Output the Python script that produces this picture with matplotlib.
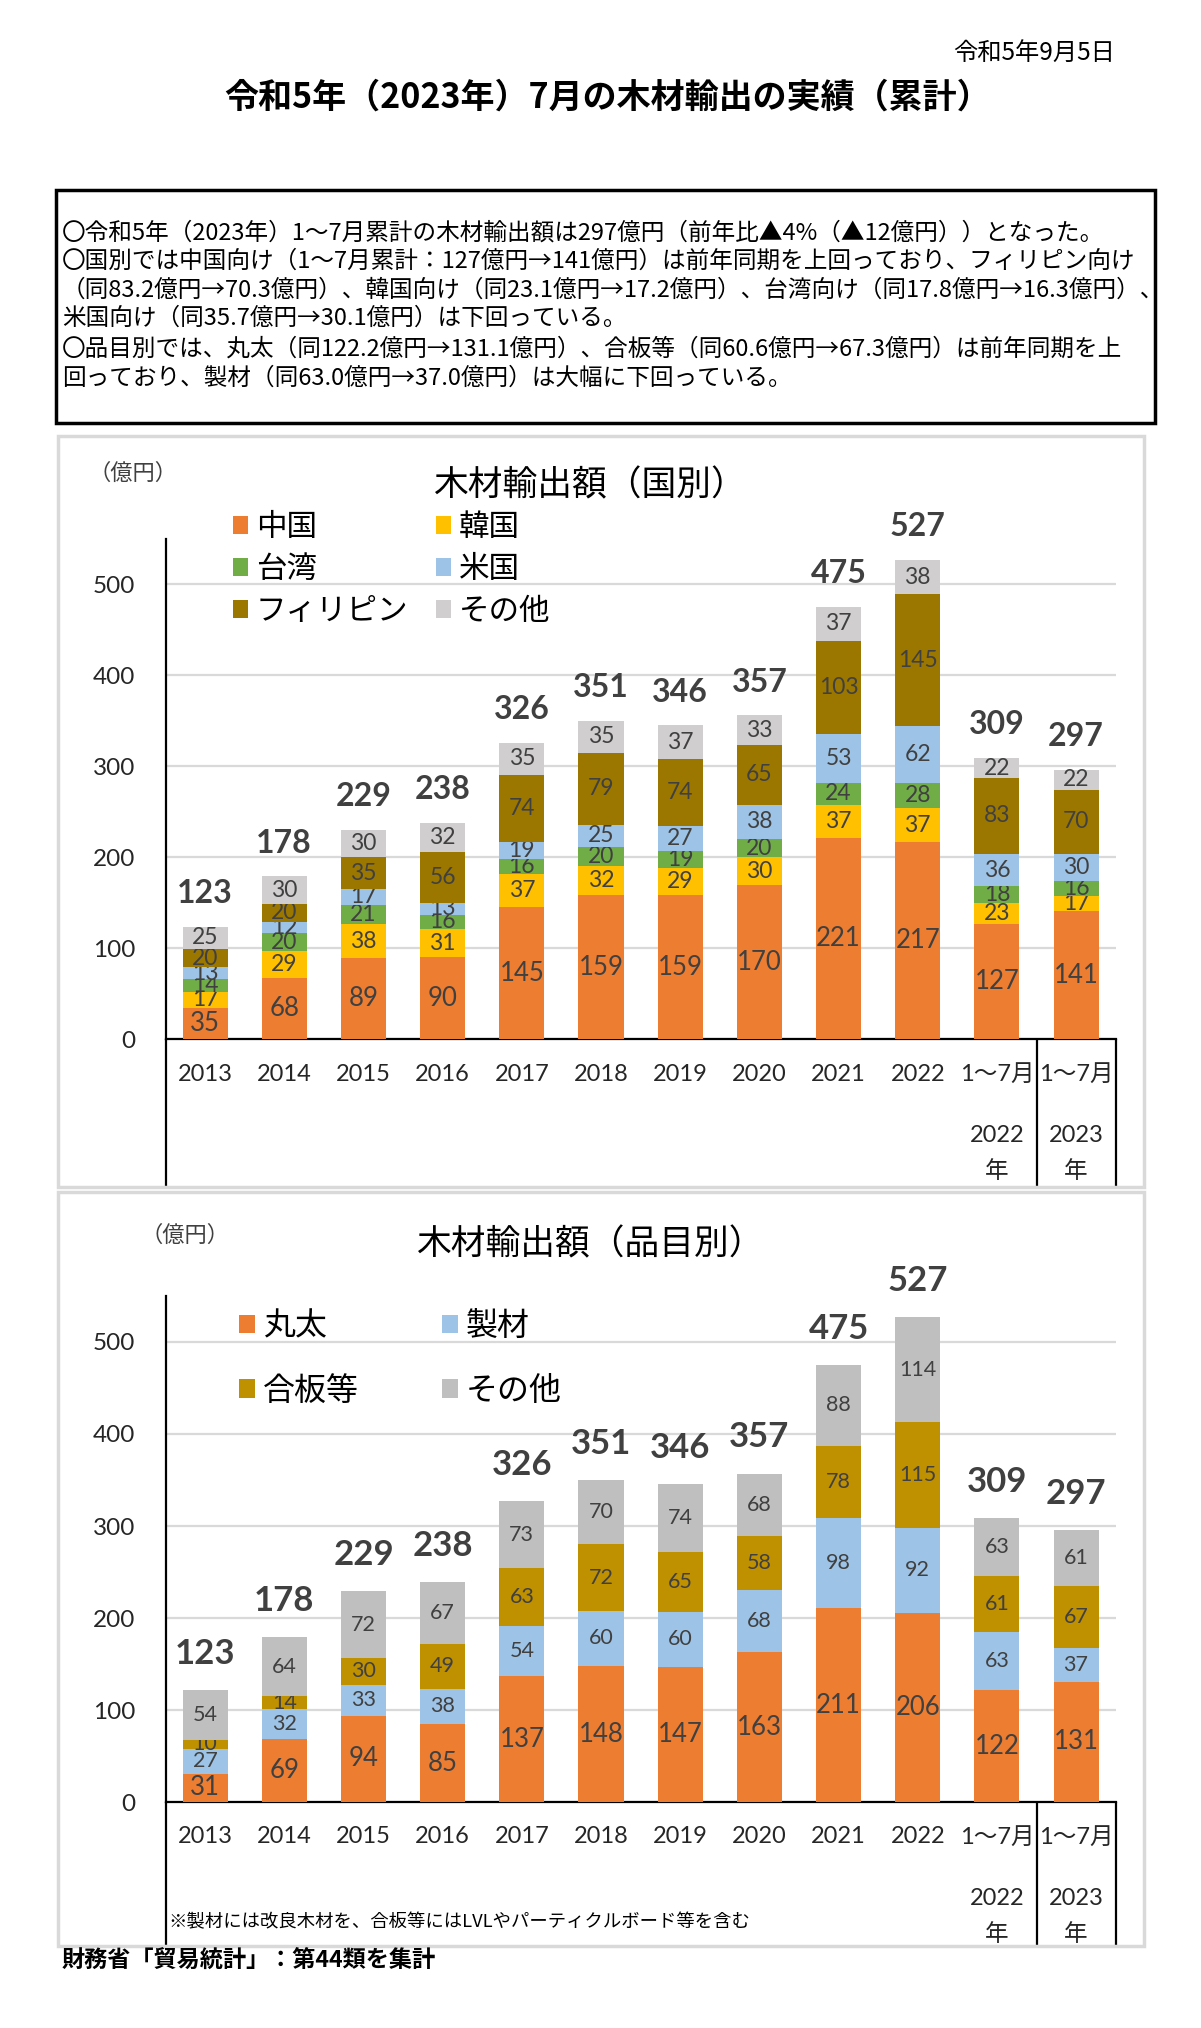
import matplotlib
matplotlib.use("Agg")
import matplotlib.pyplot as plt
from matplotlib.patches import Rectangle
import numpy as np

plt.rcParams['font.family'] = ['Noto Sans CJK JP', 'DejaVu Sans']
NUM_FONT = ['Lato', 'Noto Sans CJK JP', 'DejaVu Sans']

# ---- data (億円) ----
categories = ['2013', '2014', '2015', '2016', '2017', '2018', '2019', '2020',
              '2021', '2022', '1～7月', '1～7月']
sub_labels = ['2022', '2023']   # second line under the two 1~7月 columns

country_names = ['中国', '韓国', '台湾', '米国', 'フィリピン', 'その他']
china       = [35, 68, 89, 90, 145, 159, 159, 170, 221, 217, 127, 141]
korea       = [17, 29, 38, 31, 37, 32, 29, 30, 37, 37, 23, 17]
taiwan      = [14, 20, 21, 16, 16, 20, 19, 20, 24, 28, 18, 16]
usa         = [13, 12, 17, 13, 19, 25, 27, 38, 53, 62, 36, 30]
philippines = [20, 20, 35, 56, 74, 79, 74, 65, 103, 145, 83, 70]
other_c     = [25, 30, 30, 32, 35, 35, 37, 33, 37, 38, 22, 22]
country_totals = [123, 178, 229, 238, 326, 351, 346, 357, 475, 527, 309, 297]
country_colors = ['#ED7D31', '#FFC000', '#70AD47', '#9DC3E6', '#9C7700', '#D0CECE']

product_names = ['丸太', '製材', '合板等', 'その他']
logs     = [31, 69, 94, 85, 137, 148, 147, 163, 211, 206, 122, 131]
lumber   = [27, 32, 33, 38, 54, 60, 60, 68, 98, 92, 63, 37]
plywood  = [10, 14, 30, 49, 63, 72, 65, 58, 78, 115, 61, 67]
other_p  = [54, 64, 72, 67, 73, 70, 74, 68, 88, 114, 63, 61]
product_totals = [123, 178, 229, 238, 326, 351, 346, 357, 475, 527, 309, 297]
product_colors = ['#ED7D31', '#9DC3E6', '#BF9000', '#BFBFBF']

W, H = 1201, 2028
fig = plt.figure(figsize=(W / 100, H / 100), dpi=100)


def fx(x):
    return x / W


def fy(y):
    return 1 - y / H


# header
fig.text(fx(1115), fy(54), '令和5年9月5日', ha='right', va='center', fontsize=17.5)
fig.text(fx(608), fy(97), '令和5年（2023年）7月の木材輸出の実績（累計）',
         ha='center', va='center', fontsize=24.5, fontweight='bold')

fig.add_artist(Rectangle((fx(56), fy(423)), (1155 - 56) / W, (423 - 190) / H,
                         transform=fig.transFigure, fill=False, edgecolor='black', lw=2.5))
summary = [
    '〇令和5年（2023年）1～7月累計の木材輸出額は297億円（前年比▲4%（▲12億円））となった。',
    '〇国別では中国向け（1～7月累計：127億円→141億円）は前年同期を上回っており、フィリピン向け',
    '（同83.2億円→70.3億円）、韓国向け（同23.1億円→17.2億円）、台湾向け（同17.8億円→16.3億円）、',
    '米国向け（同35.7億円→30.1億円）は下回っている。',
    '〇品目別では、丸太（同122.2億円→131.1億円）、合板等（同60.6億円→67.3億円）は前年同期を上',
    '回っており、製材（同63.0億円→37.0億円）は大幅に下回っている。',
]
for line, y in zip(summary, [233, 261, 290, 318, 349, 378]):
    fig.text(fx(62), fy(y), line, ha='left', va='center', fontsize=17)

# chart panels
for top, bottom in [(436, 1187), (1192, 1946)]:
    fig.add_artist(Rectangle((fx(58), fy(bottom)), (1144 - 58) / W, (bottom - top) / H,
                             transform=fig.transFigure, fill=False,
                             edgecolor='#D9D9D9', lw=2.5))


def draw_chart(ax, series, names, colors, totals, small_size, total_size,
               total_off, below, legend_order, legend_anchor, legend_kw):
    x = np.arange(len(categories))
    bottom = np.zeros(len(categories))
    handles = []
    for k, (vals, name, col) in enumerate(zip(series, names, colors)):
        bars = ax.bar(x, vals, 0.57, bottom=bottom, color=col, label=name, zorder=3)
        ax.bar_label(bars, labels=[str(v) for v in vals], label_type='center',
                     fontsize=18.5 if k == 0 else small_size, color='#404040',
                     family=NUM_FONT)
        handles.append(bars)
        bottom += np.array(vals)
    for i, t in enumerate(totals):
        ax.annotate(str(t), xy=(i, bottom[i]), xytext=(0, total_off),
                    textcoords='offset points', ha='center', va='center',
                    fontsize=total_size, fontweight='bold', color='#404040',
                    family=NUM_FONT)

    ax.set_xlim(-0.5, 11.5)
    ax.set_ylim(0, 550)
    ax.set_yticks(range(0, 501, 100))
    ax.set_xticks([])
    ax.tick_params(axis='y', length=0, pad=22, labelsize=17.5, labelcolor='#262626')
    for lab in ax.get_yticklabels():
        lab.set_family(NUM_FONT)
    ax.yaxis.grid(True, color='#D9D9D9', lw=1.6)
    ax.set_axisbelow(True)
    for s in ['top', 'right']:
        ax.spines[s].set_visible(False)
    for s in ['left', 'bottom']:
        ax.spines[s].set_linewidth(1.6)
        ax.spines[s].set_color('black')

    # multi-level category axis
    ax.vlines([-0.5, 10.5, 11.5], -below, 0, colors='black', lw=1.6, clip_on=False)
    for i, c in enumerate(categories):
        ax.annotate(c, xy=(i, 0), xytext=(0, -25), textcoords='offset points',
                    ha='center', va='center', fontsize=17, color='#262626',
                    family=NUM_FONT, annotation_clip=False)
    for i, s in zip([10, 11], sub_labels):
        ax.annotate(s, xy=(i, 0), xytext=(0, -69), textcoords='offset points',
                    ha='center', va='center', fontsize=17, color='#262626',
                    family=NUM_FONT, annotation_clip=False)
        ax.annotate('年', xy=(i, 0), xytext=(0, -95), textcoords='offset points',
                    ha='center', va='center', fontsize=17, color='#262626',
                    annotation_clip=False)

    ax.legend([handles[k] for k in legend_order], [names[k] for k in legend_order],
              ncol=2, loc='upper left', bbox_to_anchor=legend_anchor,
              bbox_transform=fig.transFigure, frameon=False, borderpad=0,
              borderaxespad=0, handlelength=0.5, handleheight=0.5,
              handletextpad=0.25, **legend_kw)


# chart 1: by country
ax1 = fig.add_axes([fx(165.5), fy(1039.4), (1115.7 - 165.5) / W, 500.6 / H])
draw_chart(ax1, [china, korea, taiwan, usa, philippines, other_c], country_names,
           country_colors, country_totals, 16.5, 23, 24, 162,
           [0, 2, 4, 1, 3, 5], (fx(233), fy(512)),
           dict(fontsize=22, columnspacing=0.9, labelspacing=0.36))
fig.text(fx(133), fy(473), '（億円）', ha='center', va='center', fontsize=16, color='#404040')
fig.text(fx(590), fy(486), '木材輸出額（国別）', ha='center', va='center', fontsize=25)

# chart 2: by product
ax2 = fig.add_axes([fx(165.5), fy(1802.2), (1115.7 - 165.5) / W, 506.3 / H])
draw_chart(ax2, [logs, lumber, plywood, other_p], product_names, product_colors,
           product_totals, 15.5, 25, 26, 156,
           [0, 2, 1, 3], (fx(239), fy(1310)),
           dict(fontsize=23, columnspacing=2.6, labelspacing=1.03))
fig.text(fx(185), fy(1235), '（億円）', ha='center', va='center', fontsize=16, color='#404040')
fig.text(fx(591), fy(1245), '木材輸出額（品目別）', ha='center', va='center', fontsize=25)

fig.text(fx(168), fy(1922), '※製材には改良木材を、合板等にはLVLやパーティクルボード等を含む',
         ha='left', va='center', fontsize=13.2)
fig.text(fx(62), fy(1961), '財務省「貿易統計」：第44類を集計', ha='left', va='center',
         fontsize=16.7, fontweight='bold')

fig.savefig('out.png', dpi=100)
